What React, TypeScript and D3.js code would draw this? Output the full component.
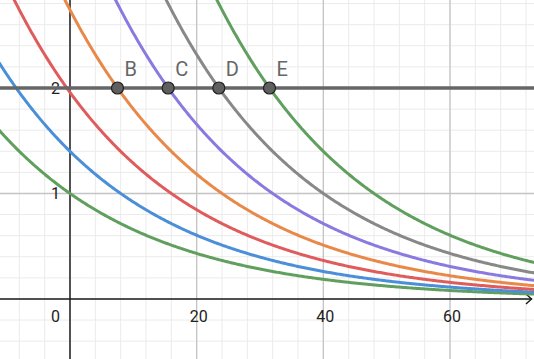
import React from "react";
import * as d3 from "d3";

// Exponential curves: value 2 reached at these x positions, common half-life
const curveShifts = [-16.5, -8.5, -0.5, 7.5, 15.5, 23.5, 31.5];
const curveColors = ["#609f5e", "#4a8fd8", "#e05c5c", "#e8894a", "#8a7ae0", "#888888", "#609f5e"];
const halfLife = 16.5;
const levelY = 2;
const pointLabels = ["B", "C", "D", "E"];
const pointX = [7.5, 15.5, 23.5, 31.5];
const xTickLabels = [20, 40, 60];
const yTickLabels = [1, 2];

const W = 534;
const H = 359;

export default function App() {
  const x = d3.scaleLinear().domain([-11.05, 73.26]).range([0, W]);
  const y = d3.scaleLinear().domain([-0.569, 2.834]).range([H, 0]);

  const minorX = d3.range(-8, 76, 4);
  const majorX = d3.range(-20, 80, 20);
  const minorY = d3.range(-0.4, 2.9, 0.2);
  const majorY = [1, 2];

  const samples = d3.range(-11.2, 73.5, 0.2);
  const line = d3
    .line<number>()
    .x((d) => x(d))
    .y((d) => y(d));

  const font = "Roboto, 'Noto Sans', sans-serif";
  const x0 = x(0);
  const y0 = y(0);

  return (
    <svg
      width={W}
      height={H}
      style={{ position: "fixed", left: 0, top: 0, background: "#fff" }}
    >
      <defs>
        <clipPath id="clip">
          <rect x={0} y={0} width={W} height={H} />
        </clipPath>
      </defs>
      {/* minor grid */}
      {minorX.map((v) => (
        <line key={"mx" + v} x1={x(v)} x2={x(v)} y1={0} y2={H} stroke="#ebebeb" strokeWidth={1} />
      ))}
      {minorY.map((v) => (
        <line key={"my" + v} x1={0} x2={W} y1={y(v)} y2={y(v)} stroke="#ebebeb" strokeWidth={1} />
      ))}
      {/* major grid */}
      {majorX.map((v) => (
        <line key={"Mx" + v} x1={x(v)} x2={x(v)} y1={0} y2={H} stroke="#c4c4c4" strokeWidth={1.3} />
      ))}
      {majorY.map((v) => (
        <line key={"My" + v} x1={0} x2={W} y1={y(v)} y2={y(v)} stroke="#c4c4c4" strokeWidth={1.3} />
      ))}
      {/* axes */}
      <line x1={0} x2={W - 2} y1={y0} y2={y0} stroke="#1a1a1a" strokeWidth={1.4} />
      <path
        d={`M${W - 8},${y0 - 5} L${W - 2.5},${y0} L${W - 8},${y0 + 5}`}
        fill="none"
        stroke="#1a1a1a"
        strokeWidth={1.4}
      />
      <line x1={x0} x2={x0} y1={0} y2={H} stroke="#1a1a1a" strokeWidth={1.4} />
      {/* tick labels */}
      {xTickLabels.map((v) => (
        <text key={"xt" + v} x={x(v) + 2} y={y0 + 23} textAnchor="middle" fontSize={16} fontFamily={font} fill="#222">
          {v}
        </text>
      ))}
      <text x={x0 - 10} y={y0 + 23} textAnchor="end" fontSize={16} fontFamily={font} fill="#222">
        0
      </text>
      {yTickLabels.map((v) => (
        <text key={"yt" + v} x={x0 - 10} y={y(v) + 6} textAnchor="end" fontSize={16} fontFamily={font} fill="#222">
          {v}
        </text>
      ))}
      {/* curves */}
      <g clipPath="url(#clip)">
        {curveShifts.map((c, i) => {
          const pts = samples
            .map((t) => [t, levelY * Math.pow(2, -(t - c) / halfLife)] as [number, number])
            .filter((p) => p[1] < 3.2);
          const l = d3
            .line<[number, number]>()
            .x((d) => x(d[0]))
            .y((d) => y(d[1]));
          return (
            <path key={"c" + i} d={l(pts) || ""} fill="none" stroke={curveColors[i]} strokeWidth={3} />
          );
        })}
      </g>
      {/* horizontal level line */}
      <line x1={0} x2={W} y1={y(levelY)} y2={y(levelY)} stroke="#666666" strokeWidth={3.5} />
      {/* points */}
      {pointX.map((v, i) => (
        <g key={"p" + i}>
          <circle cx={x(v)} cy={y(levelY)} r={6} fill="#5f5f5f" stroke="#1f1f1f" strokeWidth={1.2} />
          <text x={x(v) + 7} y={y(levelY) - 12} fontSize={20} fontFamily={font} fill="#666666">
            {pointLabels[i]}
          </text>
        </g>
      ))}
    </svg>
  );
}
